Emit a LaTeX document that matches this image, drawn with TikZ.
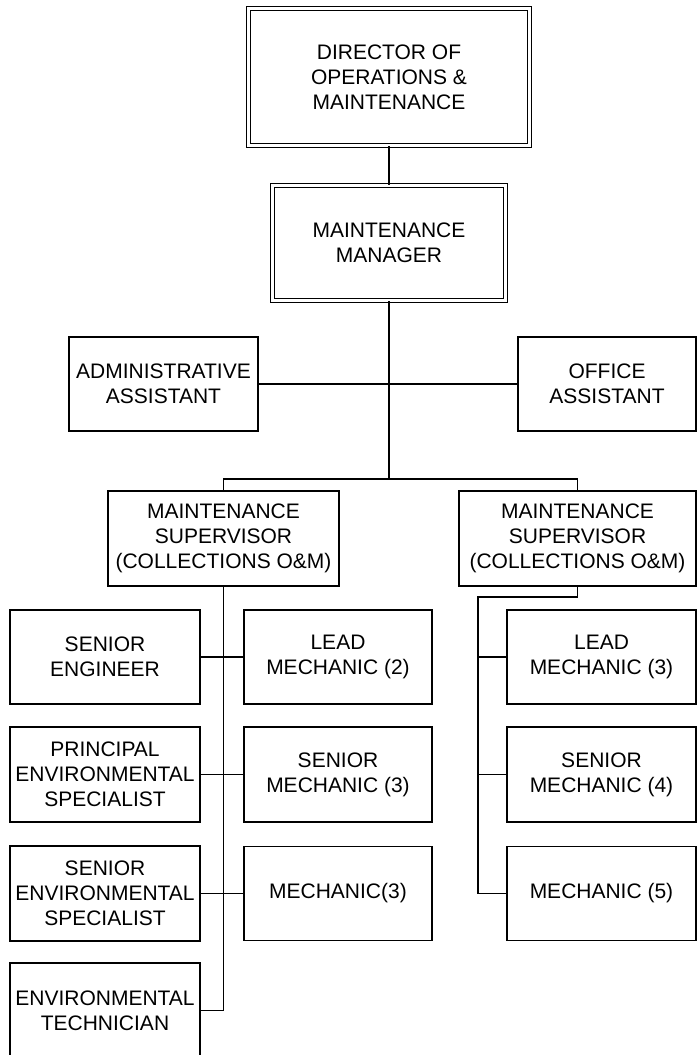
\documentclass[tikz,border=0pt]{standalone}
\usepackage{fontspec}
\setmainfont{Liberation Sans}
\usetikzlibrary{positioning, calc}

\begin{document}
\begin{tikzpicture}[
    x=1pt, y=-1pt,
    post/.style={draw, line width=1.4pt, align=center, inner sep=1pt,
        font=\fontsize{21}{25}\selectfont, minimum width=#1, minimum height=94pt},
    head/.style={post=#1, line width=1.3pt, double, double distance=2.4pt},
    link/.style={line width=1.7pt},
]
\clip (0,0) rectangle (697,1055);

% top management
\node[head=281pt, minimum height=137pt] (dir) at (389, 77) {DIRECTOR OF\\OPERATIONS \&\\MAINTENANCE};
\node[head=233pt, minimum height=115pt] (mgr) at (389, 243) {MAINTENANCE\\MANAGER};

% assistants
\node[post=189pt] (admin) at (163.5, 384) {ADMINISTRATIVE\\ASSISTANT};
\node[post=178pt] (office) at (607, 384) {OFFICE\\ASSISTANT};

% supervisors
\node[post=231pt, minimum height=95pt] (supl) at (223.5, 538.5) {MAINTENANCE\\SUPERVISOR\\(COLLECTIONS O\&M)};
\node[post=237pt, minimum height=95pt] (supr) at (577.5, 538.5) {MAINTENANCE\\SUPERVISOR\\(COLLECTIONS O\&M)};

% left supervisor, outer column
\node[post=190pt] (seng) at (105, 657) {SENIOR\\ENGINEER};
\node[post=190pt, minimum height=95pt] (pes) at (105, 774.5) {PRINCIPAL\\ENVIRONMENTAL\\SPECIALIST};
\node[post=190pt, minimum height=95pt] (ses) at (105, 893.5) {SENIOR\\ENVIRONMENTAL\\SPECIALIST};
\node[post=190pt, minimum height=95pt] (etech) at (105, 1010.5) {ENVIRONMENTAL\\TECHNICIAN};

% left supervisor, inner column
\node[post=188pt] (lmechl) at (338, 657) {LEAD\\MECHANIC (2)};
\node[post=188pt, minimum height=95pt] (smechl) at (338, 774.5) {SENIOR\\MECHANIC (3)};
\node[post=188pt] (mechl) at (338, 893.5) {MECHANIC(3)};

% right supervisor
\node[post=189pt] (lmechr) at (601.5, 657) {LEAD\\MECHANIC (3)};
\node[post=189pt, minimum height=95pt] (smechr) at (601.5, 774.5) {SENIOR\\MECHANIC (4)};
\node[post=189pt] (mechr) at (601.5, 893.5) {MECHANIC (5)};

% connectors
\coordinate (bus) at (389, 479);
\coordinate (rtrunk) at (478, 597);
\draw[link] (dir.south) -- (mgr.north);
\draw[link] (mgr.south) -- (bus);
\draw[link] (admin.east) -- (office.west);
\draw[link] (supl.north) |- (bus) -| (supr.north);
\draw[link] (supl.south) |- (etech.east);
\draw[link] (seng.east) -- (lmechl.west);
\draw[link] (pes.east) -- (smechl.west);
\draw[link] (ses.east) -- (mechl.west);
\draw[link] (supr.south) |- (rtrunk) |- (mechr.west);
\draw[link] (rtrunk |- lmechr.west) -- (lmechr.west);
\draw[link] (rtrunk |- smechr.west) -- (smechr.west);

\end{tikzpicture}
\end{document}
